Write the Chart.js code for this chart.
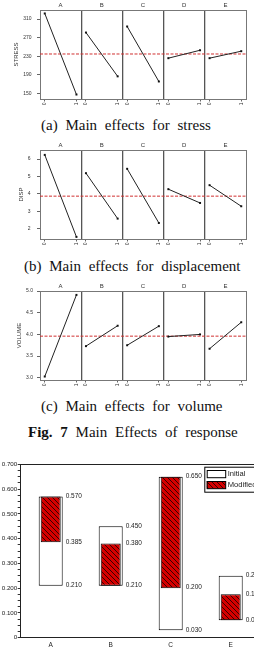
<!DOCTYPE html>
<html><head><meta charset="utf-8">
<script src="https://cdn.jsdelivr.net/npm/chart.js@4.4.1/dist/chart.umd.min.js"></script>
<style>
html,body{margin:0;padding:0;background:#fff;}
body{width:254px;height:650px;overflow:hidden;position:relative;}
canvas{position:absolute;left:0;}
.cap{position:absolute;white-space:nowrap;font-family:"Liberation Serif","Times New Roman",serif;font-size:15px;line-height:16px;color:#111;word-spacing:4px;}
</style></head><body>
<canvas id="cStress" width="254" height="110" style="top:0;width:254px;height:110px"></canvas>
<div class="cap" style="left:41px;top:117px">(a) Main effects for stress</div>
<canvas id="cDisp" width="254" height="110" style="top:140px;width:254px;height:110px"></canvas>
<div class="cap" style="left:24px;top:258px">(b) Main effects for displacement</div>
<canvas id="cVol" width="254" height="110" style="top:281px;width:254px;height:110px"></canvas>
<div class="cap" style="left:41px;top:398px">(c) Main effects for volume</div>
<div class="cap" style="left:28px;top:424px"><b>Fig. 7</b> Main Effects of response</div>
<canvas id="cBar" width="300" height="195" style="top:455px;width:300px;height:195px"></canvas>
<script>
// ---------- data ----------
const factors = ['A','B','C','D','E'];
const levelLabels = ['0','1'];

const stressLevel0 = [322, 281, 294, 226, 226];
const stressLevel1 = [148, 187, 176, 243, 241];
const stressMean = 235;
const stressTicks = [150, 190, 230, 270, 310];
const stressTickLabels = ['150','190','230','270','310'];

const dispLevel0 = [6.24, 5.19, 5.44, 4.27, 4.50];
const dispLevel1 = [1.53, 2.58, 2.33, 3.48, 3.29];
const dispMean = 3.87;
const dispTicks = [2, 3, 4, 5, 6];
const dispTickLabels = ['2','3','4','5','6'];

const volumeLevel0 = [3.03, 3.73, 3.75, 3.95, 3.67];
const volumeLevel1 = [4.91, 4.20, 4.19, 4.00, 4.28];
const volumeMean = 3.96;
const volumeTicks = [3.0, 3.5, 4.0, 4.5, 5.0];
const volumeTickLabels = ['3.0','3.5','4.0','4.5','5.0'];

const barCategories = ['A','B','C','E'];
const initialLow  = [0.210, 0.210, 0.030, 0.070];
const initialHigh = [0.570, 0.450, 0.650, 0.250];
const modifiedLow  = [0.385, 0.210, 0.200, 0.070];
const modifiedHigh = [0.570, 0.380, 0.650, 0.175];
const barTickValues = [0, 0.1, 0.2, 0.3, 0.4, 0.5, 0.6, 0.7];
const barTickLabels = ['0','0.100','0.200','0.300','0.400','0.500','0.600','0.700'];

// ---------- setup ----------
Chart.defaults.font.family = '"Liberation Sans", Arial, sans-serif';
Chart.defaults.animation = false;
Chart.defaults.responsive = false;
Chart.defaults.devicePixelRatio = 1;
Chart.defaults.plugins.legend.display = false;
Chart.defaults.plugins.tooltip.enabled = false;

const PW = 1.3, PAD = 0.15;

function mainEffects(id, lv0, lv1, mean, yTicks, yLabels, yMin, yMax, yTitle, titlePad, labelPad){
  const datasets = factors.map((f,i)=>({
    label: f,
    data: [{x:i*PW+PAD, y:lv0[i]}, {x:i*PW+PAD+1, y:lv1[i]}],
    showLine:true, borderColor:'#222', borderWidth:1,
    pointRadius:1.4, pointStyle:'rect', pointBackgroundColor:'#111', pointBorderWidth:0
  }));
  datasets.push({label:'mean', data:[{x:0,y:mean},{x:factors.length*PW,y:mean}],
    showLine:true, borderColor:'#d03030', borderWidth:1, borderDash:[3,1.5], pointRadius:0});
  const xt = [];
  factors.forEach((f,i)=>{
    if(i>0) xt.push({value:i*PW, label:'', kind:'sep'});
    levelLabels.forEach((l,j)=>xt.push({value:i*PW+PAD+j, label:l, kind:'pt'}));
  });
  const kind = c => xt[c.index] ? xt[c.index].kind : '';
  new Chart(document.getElementById(id), {
    type:'scatter',
    data:{datasets},
    options:{
      layout:{padding:{left:0,right:8,top:0,bottom:0}},
      scales:{
        x:{type:'linear', position:'bottom', min:0, max:factors.length*PW,
          afterBuildTicks:s=>{s.ticks = xt.map(t=>({value:t.value}));},
          afterFit:s=>{s.height = 11;},
          ticks:{autoSkip:false, minRotation:90, maxRotation:90, font:{size:5}, color:'#333', padding:1,
            callback:(v,i)=>xt[i]?xt[i].label:''},
          grid:{color:c=>kind(c)==='sep'?'#555':'rgba(0,0,0,0)', lineWidth:c=>kind(c)==='sep'?1.3:1,
            tickColor:c=>kind(c)==='pt'?'#666':'rgba(0,0,0,0)', tickLength:2.5, drawTicks:true},
          border:{color:'#777', width:1}
        },
        x2:{type:'linear', position:'top', min:0, max:factors.length*PW,
          afterBuildTicks:s=>{s.ticks = factors.map((f,i)=>({value:i*PW+PW/2}));},
          afterFit:s=>{s.height = 10;},
          ticks:{autoSkip:false, maxRotation:0, font:{size:6}, color:'#333', padding:1,
            callback:(v,i)=>factors[i]},
          grid:{display:false, drawTicks:false},
          border:{color:'#777', width:1}
        },
        y:{type:'linear', position:'left', min:yMin, max:yMax,
          afterBuildTicks:s=>{s.ticks = yTicks.map(v=>({value:v}));},
          afterFit:s=>{s.width = 40;},
          ticks:{font:{size:5}, color:'#333', padding:labelPad, callback:(v,i)=>yLabels[i]},
          grid:{drawOnChartArea:false, tickLength:3, tickColor:'#666'},
          border:{color:'#777', width:1},
          title:{display:true, text:yTitle, font:{size:6}, color:'#333', padding:{top:titlePad,bottom:0}}
        },
        y2:{type:'linear', position:'right', min:yMin, max:yMax,
          afterFit:s=>{s.width = 0;},
          ticks:{display:false}, grid:{display:false, drawTicks:false},
          border:{color:'#777', width:1}
        }
      }
    }
  });
}

mainEffects('cStress', stressLevel0, stressLevel1, stressMean, stressTicks, stressTickLabels, 138.4, 329.4, 'STRESS', 12.4, 5.5);
mainEffects('cDisp', dispLevel0, dispLevel1, dispMean, dispTicks, dispTickLabels, 1.41, 6.52, 'DISP', 17.4, 6.5);
mainEffects('cVol', volumeLevel0, volumeLevel1, volumeMean, volumeTicks, volumeTickLabels, 2.95, 5.0, 'VOLUME', 15.4, 4);

// ---------- bar chart ----------
const barCanvas = document.getElementById('cBar');
const bctx = barCanvas.getContext('2d');
const tile = document.createElement('canvas'); tile.width = 5; tile.height = 5;
(function(){
  const g = tile.getContext('2d');
  g.fillStyle = '#d40000'; g.fillRect(0,0,5,5);
  g.strokeStyle = '#3a0000'; g.lineWidth = 1.0;
  g.beginPath();
  g.moveTo(-1,-1); g.lineTo(6,6);
  g.moveTo(-1,4); g.lineTo(2,7);
  g.moveTo(4,-1); g.lineTo(7,2);
  g.stroke();
})();
const hatch = bctx.createPattern(tile, 'repeat');

const minorTicks = [];
for(let k=0;k<=28;k++) minorTicks.push(+(k*0.025).toFixed(3));
function barLabel(v){
  const j = barTickValues.findIndex(t=>Math.abs(t-v)<1e-6);
  return j>=0 ? barTickLabels[j] : '';
}

const valueLabels = {
  id:'valueLabels',
  afterDatasetsDraw(chart){
    const ctx = chart.ctx, ys = chart.scales.y;
    const meta = chart.getDatasetMeta(0);
    ctx.save();
    ctx.font = '6.5px "Liberation Sans", Arial, sans-serif';
    ctx.fillStyle = '#222'; ctx.textBaseline = 'middle'; ctx.textAlign = 'left';
    barCategories.forEach((c,i)=>{
      const bar = meta.data[i];
      const x = bar.x + bar.width/2 + 3;
      const vals = [...new Set([initialHigh[i], modifiedHigh[i], modifiedLow[i], initialLow[i]])];
      vals.forEach(v=>ctx.fillText(v.toFixed(3), x, ys.getPixelForValue(v) - 0.5));
    });
    ctx.restore();
  }
};
const boxLegend = {
  id:'boxLegend',
  afterDraw(chart){
    const ctx = chart.ctx, a = chart.chartArea;
    const x0 = a.left + 183.6, y0 = a.top + 2.4;
    ctx.save();
    ctx.fillStyle = '#fff'; ctx.fillRect(x0, y0, 70, 25);
    ctx.strokeStyle = '#000'; ctx.lineWidth = 1;
    ctx.strokeRect(x0+0.5, y0+0.5, 70, 25);
    ctx.font = '7.6px "Liberation Sans", Arial, sans-serif';
    ctx.textBaseline = 'middle'; ctx.textAlign = 'left';
    chart.data.datasets.forEach((ds,k)=>{
      const sy = y0 + 3.3 + k*11;
      ctx.fillStyle = ds.backgroundColor;
      ctx.fillRect(x0+2.4, sy, 19, 7.7);
      ctx.strokeStyle = '#000';
      ctx.strokeRect(x0+2.9, sy+0.5, 18.5, 7.2);
      ctx.fillStyle = '#222';
      ctx.fillText(ds.label, x0+23.4, sy+4);
    });
    ctx.restore();
  }
};

new Chart(barCanvas, {
  type:'bar',
  data:{
    labels:barCategories,
    datasets:[
      {label:'Initial', data:initialLow.map((v,i)=>[v, initialHigh[i]]),
        backgroundColor:'#ffffff', borderColor:'#000', borderWidth:1, borderSkipped:false,
        barPercentage:0.4, categoryPercentage:1, grouped:false, order:1},
      {label:'Modified', data:modifiedLow.map((v,i)=>[v, modifiedHigh[i]]),
        backgroundColor:hatch, borderColor:'#000', borderWidth:1, borderSkipped:false,
        barPercentage:0.333, categoryPercentage:1, grouped:false, order:0}
    ]
  },
  options:{
    layout:{padding:{left:0,right:39.3,top:0,bottom:0}},
    scales:{
      x:{position:'bottom', afterFit:s=>{s.height = 12.3;},
        ticks:{font:{size:6.5}, color:'#222', padding:4},
        grid:{display:false, drawTicks:false},
        border:{color:'#222', width:1}},
      x2:{position:'top', labels:barCategories, afterFit:s=>{s.height = 9.3;},
        ticks:{display:false}, grid:{display:false, drawTicks:false},
        border:{color:'#222', width:1}},
      y:{type:'linear', min:0, max:0.7,
        afterBuildTicks:s=>{s.ticks = minorTicks.map(v=>({value:v}));},
        afterFit:s=>{s.width = 20.7;},
        ticks:{autoSkip:false, font:{size:6.2}, color:'#222', padding:0.5, callback:v=>barLabel(v)},
        grid:{drawOnChartArea:false, tickLength:3, tickColor:'#333'},
        border:{color:'#222', width:1}},
      y2:{type:'linear', position:'right', min:0, max:0.7, afterFit:s=>{s.width = 0;},
        ticks:{display:false}, grid:{display:false, drawTicks:false},
        border:{color:'#222', width:1}}
    }
  },
  plugins:[valueLabels, boxLegend]
});
</script>
</body></html>
